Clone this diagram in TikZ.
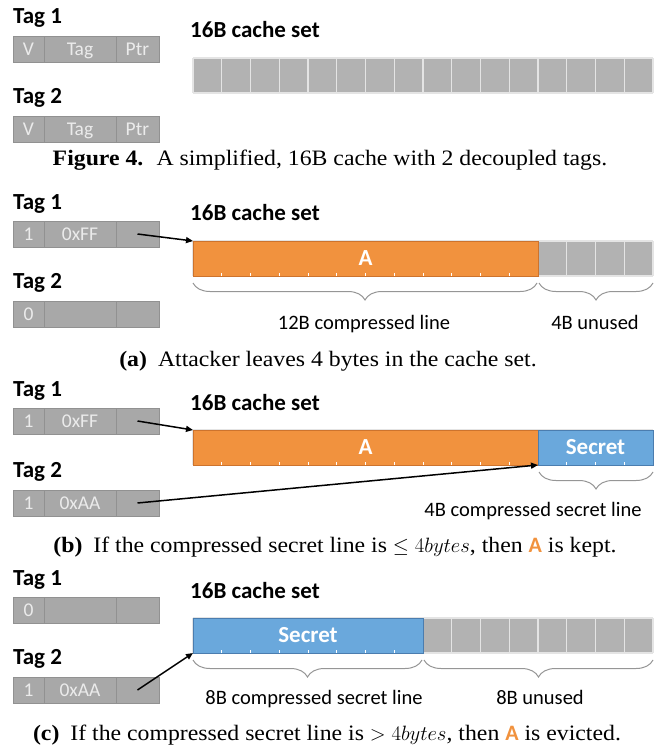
\documentclass[tikz,border=0pt]{standalone}
\usepackage{fontspec}
\setmainfont{Liberation Serif}[FakeStretch=1.08]
\setsansfont{Carlito}
\usetikzlibrary{positioning,decorations.pathreplacing,arrows.meta}
\definecolor{tagfill}{RGB}{168,168,168}
\definecolor{tagline}{RGB}{145,145,145}
\definecolor{tagtext}{RGB}{235,235,235}
\definecolor{cellfill}{RGB}{178,178,178}
\definecolor{cellline}{RGB}{228,228,228}
\definecolor{lineorange}{RGB}{241,146,62}
\definecolor{orangeedge}{RGB}{205,115,45}
\definecolor{secretblue}{RGB}{106,168,220}
\definecolor{blueedge}{RGB}{75,125,175}
\definecolor{bracegray}{RGB}{150,150,150}
\tikzset{
  tagname/.style={font=\sffamily\bfseries\fontsize{23}{25}\selectfont, anchor=base west, inner sep=0pt},
  tagcell/.style={draw=tagline, line width=1pt, fill=tagfill, text=tagtext, minimum height=26pt,
    text height=13pt, text depth=1pt, inner sep=0pt, outer sep=0pt, font=\sffamily\fontsize{19.5}{21}\selectfont},
  vcell/.style={tagcell, minimum width=31pt},
  addrcell/.style={tagcell, minimum width=72pt},
  ptrcell/.style={tagcell, minimum width=43pt},
  setgrid/.style={draw=cellline, line width=1.2pt, xstep=28.75pt, ystep=35pt},
  celltick/.style={draw=white, line width=0.8pt},
  linebox/.style={minimum height=35pt, inner sep=0pt, outer sep=0pt, anchor=north west, text=white,
    font=\sffamily\bfseries\fontsize{23}{25}\selectfont, line width=0.8pt},
  abox/.style={linebox, fill=lineorange, draw=orangeedge},
  secretbox/.style={linebox, fill=secretblue, draw=blueedge},
  ptrarrow/.style={-{Triangle[length=7pt,width=6pt]}, line width=1.5pt},
  sizebrace/.style={draw=bracegray, line width=1pt, decorate, decoration={brace, amplitude=17pt, mirror}},
  sizelabel/.style={font=\sffamily\fontsize{20.5}{22}\selectfont, anchor=base, inner sep=0pt},
  caption/.style={font=\fontsize{22}{24}\selectfont, anchor=base, inner sep=0pt},
}
\begin{document}
\begin{tikzpicture}[x=1pt,y=-1pt]
\useasboundingbox (0,0) rectangle (655,751);

% Figure 4: empty cache set
\node[tagname] (ft1name) at (13,24) {Tag 1};
\node[vcell] (ft1v) at (28.5,50) {V};
\node[addrcell, right=0pt of ft1v] (ft1a) {Tag};
\node[ptrcell, right=0pt of ft1a] (ft1p) {Ptr};
\node[tagname] (ft2name) at (13,104) {Tag 2};
\node[vcell] (ft2v) at (28.5,130) {V};
\node[addrcell, right=0pt of ft2v] (ft2a) {Tag};
\node[ptrcell, right=0pt of ft2a] (ft2p) {Ptr};
\node[tagname] (fset) at (190,38) {16B cache set};
\fill[cellfill] (193,58) rectangle (653,93);
\draw[setgrid, shift={(193,58)}] (0,35) grid (460,0);
\node[caption] (fcap) at (330,166) {\textbf{Figure 4.}\hspace{0.6em}A simplified, 16B cache with 2 decoupled tags.};

% (a)
\node[tagname] (at1name) at (13,209) {Tag 1};
\node[vcell] (at1v) at (28.5,234) {1};
\node[addrcell, right=0pt of at1v] (at1a) {0xFF};
\node[ptrcell, right=0pt of at1a] (at1p) {};
\node[tagname] (at2name) at (13,288) {Tag 2};
\node[vcell] (at2v) at (28.5,314) {0};
\node[addrcell, right=0pt of at2v] (at2a) {};
\node[ptrcell, right=0pt of at2a] (at2p) {};
\node[tagname] (aset) at (190,221) {16B cache set};
\fill[cellfill] (193,241) rectangle (653,276);
\draw[setgrid, shift={(193,241)}] (0,35) grid (460,0);
\node[abox, minimum width=345pt] (abar) at (193,241) {A};
\foreach \i in {1,...,11} \draw[celltick] (193+\i*28.75,273) -- ++(0,3);
\draw[ptrarrow] (at1p.center) -- (abar.north west);
\draw[sizebrace] (193,283) -- (537,283);
\draw[sizebrace] (539,283) -- (653,283);
\node[sizelabel] (aused) at (364,329) {12B compressed line};
\node[sizelabel] (afree) at (595,329) {4B unused};
\node[caption] (acap) at (328,366) {\textbf{(a)}\hspace{0.5em}Attacker leaves 4 bytes in the cache set.};

% (b)
\node[tagname] (bt1name) at (13,396) {Tag 1};
\node[vcell] (bt1v) at (28.5,421) {1};
\node[addrcell, right=0pt of bt1v] (bt1a) {0xFF};
\node[ptrcell, right=0pt of bt1a] (bt1p) {};
\node[tagname] (bt2name) at (13,477) {Tag 2};
\node[vcell] (bt2v) at (28.5,503) {1};
\node[addrcell, right=0pt of bt2v] (bt2a) {0xAA};
\node[ptrcell, right=0pt of bt2a] (bt2p) {};
\node[tagname] (bset) at (190,410) {16B cache set};
\fill[cellfill] (193,430) rectangle (653,465);
\draw[setgrid, shift={(193,430)}] (0,35) grid (460,0);
\node[abox, minimum width=345pt] (bbar) at (193,430) {A};
\node[secretbox, minimum width=115pt] (bsec) at (538,430) {Secret};
\foreach \i in {1,...,11,13,14,15} \draw[celltick] (193+\i*28.75,462) -- ++(0,3);
\draw[ptrarrow] (bt1p.center) -- (bbar.north west);
\draw[ptrarrow] (bt2p.center) -- (bsec.south west);
\draw[sizebrace] (539,472) -- (653,472);
\node[sizelabel] (bused) at (533,516) {4B compressed secret line};
\node[caption] (bcap) at (335,552) {\textbf{(b)}\hspace{0.5em}If the compressed secret line is $\leq 4bytes$, then {\sffamily\bfseries\color{lineorange}A} is kept.};

% (c)
\node[tagname] (ct1name) at (13,585) {Tag 1};
\node[vcell] (ct1v) at (28.5,610) {0};
\node[addrcell, right=0pt of ct1v] (ct1a) {};
\node[ptrcell, right=0pt of ct1a] (ct1p) {};
\node[tagname] (ct2name) at (13,664) {Tag 2};
\node[vcell] (ct2v) at (28.5,690) {1};
\node[addrcell, right=0pt of ct2v] (ct2a) {0xAA};
\node[ptrcell, right=0pt of ct2a] (ct2p) {};
\node[tagname] (cset) at (190,598) {16B cache set};
\fill[cellfill] (193,618) rectangle (653,653);
\draw[setgrid, shift={(193,618)}] (0,35) grid (460,0);
\node[secretbox, minimum width=230pt] (csec) at (193,618) {Secret};
\foreach \i in {1,...,7} \draw[celltick] (193+\i*28.75,650) -- ++(0,3);
\draw[ptrarrow] (ct2p.center) -- (csec.south west);
\draw[sizebrace] (193,660) -- (422,660);
\draw[sizebrace] (424,660) -- (653,660);
\node[sizelabel] (cused) at (314,704) {8B compressed secret line};
\node[sizelabel] (cfree) at (540,704) {8B unused};
\node[caption] (ccap) at (327,740) {\textbf{(c)}\hspace{0.5em}If the compressed secret line is $> 4bytes$, then {\sffamily\bfseries\color{lineorange}A} is evicted.};
\end{tikzpicture}
\end{document}
